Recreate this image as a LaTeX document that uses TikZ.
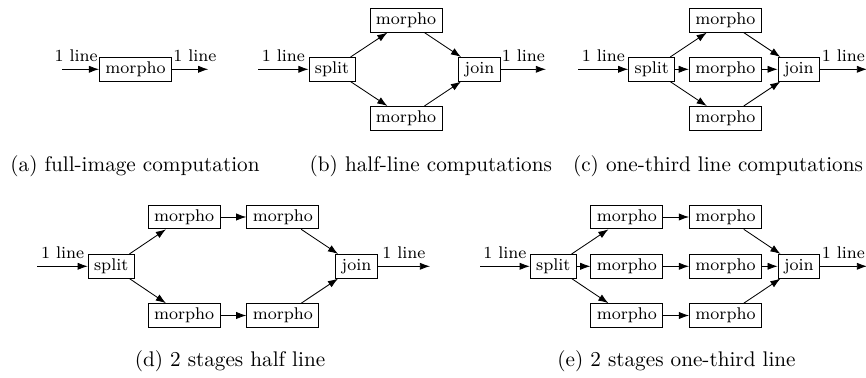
\documentclass[tikz,border=0pt]{standalone}
\usepackage{tikz}
\usetikzlibrary{positioning, arrows.meta}

\tikzset{
  proc/.style={draw, font=\footnotesize, text height=5.6pt, text depth=1.6pt, inner xsep=2.8pt, inner ysep=2pt},
  flow/.style={-{Latex[length=4.8pt,width=3.4pt]}},
  lin/.style={font=\footnotesize},
}

\begin{document}
\begin{tikzpicture}[x=0.4717pt, y=-0.4717pt]
  \useasboundingbox (0,0) rectangle (866,378);
  \clip (0,0) rectangle (866,378);

  % (a) full image
  \node[proc] (mA) at (135.5,69.3) {morpho};
  \coordinate (inA) at (62,69.3);
  \coordinate (outA) at (208.3,69.3);
  \draw[flow] (inA) -- (mA) node[lin, pos=1, anchor=south east, inner xsep=0.5pt] {1 line};
  \draw[flow] (mA) -- (outA) node[lin, pos=0, anchor=south west, inner xsep=0.5pt] {1 line};
  \node[anchor=base] (capA) at (135,172) {(a) full-image computation};

  % (b) half line
  \node[proc] (splitB) at (332,69.3) {split};
  \node[proc] (mB1) at (406,20.3) {morpho};
  \node[proc] (mB2) at (406,118.3) {morpho};
  \node[proc] (joinB) at (479.5,69.3) {join};
  \coordinate (inB) at (258.3,69.3);
  \coordinate (outB) at (546,69.3);
  \draw[flow] (inB) -- node[lin, above] {1 line} (splitB);
  \draw[flow] (joinB) -- node[lin, above] {1 line} (outB);
  \draw[flow] (splitB) -- (mB1);
  \draw[flow] (splitB) -- (mB2);
  \draw[flow] (mB1) -- (joinB);
  \draw[flow] (mB2) -- (joinB);
  \node[anchor=base] (capB) at (430.8,172) {(b) half-line computations};

  % (c) one-third line
  \node[proc] (splitC) at (651.7,69.3) {split};
  \node[proc] (mC1) at (725.3,20.3) {morpho};
  \node[proc] (mC2) at (725.3,69.3) {morpho};
  \node[proc] (mC3) at (725.3,118.3) {morpho};
  \node[proc] (joinC) at (798.8,69.3) {join};
  \coordinate (inC) at (578.3,69.3);
  \coordinate (outC) at (867,69.3);
  \draw[flow] (inC) -- node[lin, above] {1 line} (splitC);
  \draw[flow] (joinC) -- node[lin, above] {1 line} (outC);
  \draw[flow] (splitC) -- (mC1);
  \draw[flow] (splitC) -- (mC2);
  \draw[flow] (splitC) -- (mC3);
  \draw[flow] (mC1) -- (joinC);
  \draw[flow] (mC2) -- (joinC);
  \draw[flow] (mC3) -- (joinC);
  \node[anchor=base] (capC) at (718,172) {(c) one-third line computations};

  % (d) 2 stages half line
  \node[proc] (splitD) at (111.2,266.3) {split};
  \node[proc] (mD11) at (184.2,217) {morpho};
  \node[proc] (mD12) at (282.8,217) {morpho};
  \node[proc] (mD21) at (184.2,315.5) {morpho};
  \node[proc] (mD22) at (282.8,315.5) {morpho};
  \node[proc] (joinD) at (356.5,266.3) {join};
  \coordinate (inD) at (37.3,266.3);
  \coordinate (outD) at (430,266.3);
  \draw[flow] (inD) -- node[lin, above] {1 line} (splitD);
  \draw[flow] (joinD) -- node[lin, above] {1 line} (outD);
  \draw[flow] (splitD) -- (mD11);
  \draw[flow] (splitD) -- (mD21);
  \draw[flow] (mD11) -- (mD12);
  \draw[flow] (mD21) -- (mD22);
  \draw[flow] (mD12) -- (joinD);
  \draw[flow] (mD22) -- (joinD);
  \node[anchor=base] (capD) at (230,367) {(d) 2 stages half line};

  % (e) 2 stages one-third line
  \node[proc] (splitE) at (553.3,266.3) {split};
  \node[proc] (mE11) at (626.8,217) {morpho};
  \node[proc] (mE12) at (725.5,217) {morpho};
  \node[proc] (mE21) at (626.8,266.3) {morpho};
  \node[proc] (mE22) at (725.5,266.3) {morpho};
  \node[proc] (mE31) at (626.8,315.5) {morpho};
  \node[proc] (mE32) at (725.5,315.5) {morpho};
  \node[proc] (joinE) at (798.8,266.3) {join};
  \coordinate (inE) at (480,266.3);
  \coordinate (outE) at (867,266.3);
  \draw[flow] (inE) -- node[lin, above] {1 line} (splitE);
  \draw[flow] (joinE) -- node[lin, above] {1 line} (outE);
  \draw[flow] (splitE) -- (mE11);
  \draw[flow] (splitE) -- (mE21);
  \draw[flow] (splitE) -- (mE31);
  \draw[flow] (mE11) -- (mE12);
  \draw[flow] (mE21) -- (mE22);
  \draw[flow] (mE31) -- (mE32);
  \draw[flow] (mE12) -- (joinE);
  \draw[flow] (mE22) -- (joinE);
  \draw[flow] (mE32) -- (joinE);
  \node[anchor=base] (capE) at (676.5,367) {(e) 2 stages one-third line};
\end{tikzpicture}
\end{document}
